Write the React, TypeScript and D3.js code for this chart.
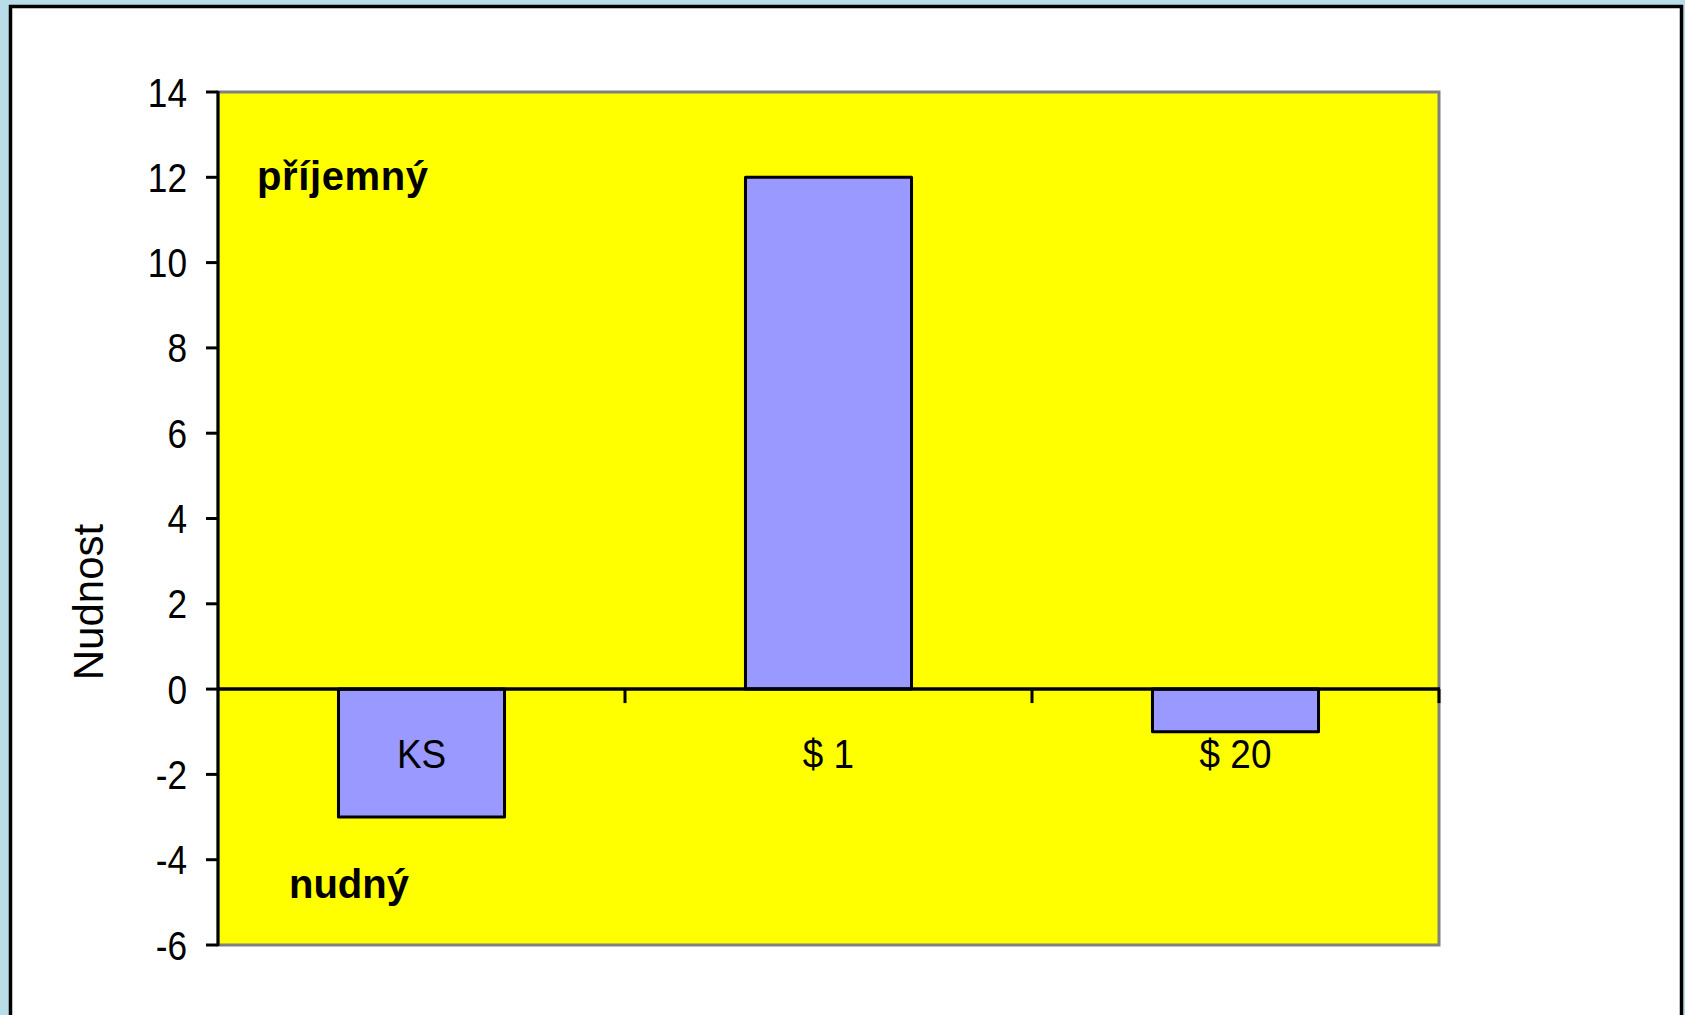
/*eslint-disable*/
import React, { useEffect, useRef } from 'react';
import * as d3 from 'd3';

// values
const categories = ['KS', '$ 1', '$ 20'];
const values = [-3, 12, -1];
const yTicks = [-6, -4, -2, 0, 2, 4, 6, 8, 10, 12, 14];
const yDomain = [-6, 14];

const font = 'Arial, "Liberation Sans", sans-serif';

const App: React.FC = () => {
  const svgRef = useRef<SVGSVGElement>(null);

  useEffect(() => {
    const width = 1685;
    const height = 1015;
    const plot = { left: 218, right: 1439, top: 92, bottom: 945 };

    const svg = d3.select(svgRef.current)
      .attr('width', width)
      .attr('height', height);
    svg.selectAll('*').remove();

    // page background + white panel
    svg.append('rect').attr('width', width).attr('height', height).attr('fill', '#b9dde8');
    svg.append('rect')
      .attr('x', 10.5).attr('y', 6.5)
      .attr('width', 1671).attr('height', 1030)
      .attr('fill', '#fff')
      .attr('stroke', '#000')
      .attr('stroke-width', 3.5);

    const x = d3.scaleBand<string>()
      .domain(categories)
      .range([plot.left, plot.right])
      .padding(0);

    const y = d3.scaleLinear()
      .domain(yDomain)
      .range([plot.bottom, plot.top]);

    // plot area
    svg.append('rect')
      .attr('x', plot.left).attr('y', plot.top)
      .attr('width', plot.right - plot.left)
      .attr('height', plot.bottom - plot.top)
      .attr('fill', '#ffff00')
      .attr('stroke', '#808080')
      .attr('stroke-width', 3);

    // bars
    const bw = x.bandwidth() * 0.408;
    svg.append('g')
      .selectAll('rect')
      .data(values)
      .enter()
      .append('rect')
      .attr('x', (d, i) => (x(categories[i]) || 0) + (x.bandwidth() - bw) / 2)
      .attr('y', d => y(Math.max(0, d)))
      .attr('width', bw)
      .attr('height', d => Math.abs(y(d) - y(0)))
      .attr('fill', '#9999ff')
      .attr('stroke', '#000')
      .attr('stroke-width', 3)
      .attr('stroke-linejoin', 'round');

    // y axis
    svg.append('line')
      .attr('x1', plot.left).attr('x2', plot.left)
      .attr('y1', plot.top - 1).attr('y2', plot.bottom + 1)
      .attr('stroke', '#000').attr('stroke-width', 3);

    const yAxis = svg.append('g');
    yAxis.selectAll('line')
      .data(yTicks)
      .enter()
      .append('line')
      .attr('x1', plot.left - 12).attr('x2', plot.left)
      .attr('y1', d => y(d)).attr('y2', d => y(d))
      .attr('stroke', '#000').attr('stroke-width', 3);
    yAxis.selectAll('text')
      .data(yTicks)
      .enter()
      .append('text')
      .attr('transform', d => `translate(187, ${y(d) + 14.5}) scale(0.88, 1)`)
      .attr('text-anchor', 'end')
      .style('font-family', font)
      .style('font-size', '40px')
      .text(d => String(d));

    // zero line + category ticks
    svg.append('line')
      .attr('x1', plot.left).attr('x2', plot.right + 1)
      .attr('y1', y(0)).attr('y2', y(0))
      .attr('stroke', '#000').attr('stroke-width', 3.5);
    const bounds = categories.map(c => (x(c) || 0) + x.bandwidth());
    svg.append('g')
      .selectAll('line')
      .data(bounds)
      .enter()
      .append('line')
      .attr('x1', d => d).attr('x2', d => d)
      .attr('y1', y(0)).attr('y2', y(0) + 14)
      .attr('stroke', '#000').attr('stroke-width', 3);

    svg.append('g')
      .selectAll('text')
      .data(categories)
      .enter()
      .append('text')
      .attr('transform', d => `translate(${(x(d) || 0) + x.bandwidth() / 2}, ${y(0) + 79}) scale(0.9, 1)`)
      .attr('text-anchor', 'middle')
      .style('font-family', font)
      .style('font-size', '41px')
      .text(d => d);

    // axis title
    svg.append('text')
      .attr('transform', 'translate(103, 602) rotate(-90)')
      .attr('text-anchor', 'middle')
      .style('font-family', font)
      .style('font-size', '42px')
      .text('Nudnost');

    // annotations
    svg.append('text')
      .attr('x', 257).attr('y', 190)
      .style('font-family', font)
      .style('font-size', '40px')
      .style('font-weight', 'bold')
      .style('letter-spacing', '0.6px')
      .text('příjemný');
    svg.append('text')
      .attr('x', 289).attr('y', 898)
      .style('font-family', font)
      .style('font-size', '40px')
      .style('font-weight', 'bold')
      .text('nudný');
  }, []);

  return <svg ref={svgRef} style={{ position: 'absolute', left: 0, top: 0, display: 'block' }}></svg>;
};

export default App;
